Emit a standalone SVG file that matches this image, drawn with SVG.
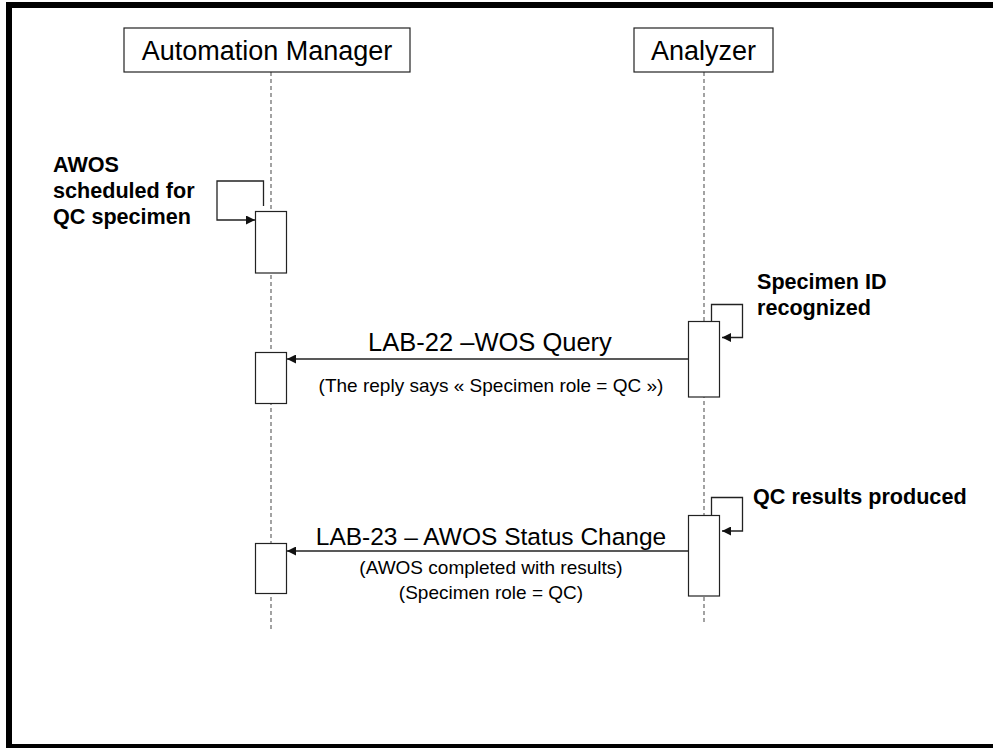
<svg xmlns="http://www.w3.org/2000/svg" width="993" height="748" viewBox="0 0 993 748">
<style>
.hdr{fill:#fff;stroke:#222;stroke-width:1.2}
.act{fill:#fff;stroke:#222;stroke-width:1.2}
.life{stroke:#666;stroke-width:1.2;stroke-dasharray:4 3;fill:none}
.msg{stroke:#222;stroke-width:1.3;fill:none}
.t{font-family:"Liberation Sans",Arial,sans-serif;fill:#000}
.big{font-size:27px}
.mid{font-size:24.5px}
.sm{font-size:19px}
.b{font-size:21.6px;font-weight:bold}
</style>
<defs>
<marker id="ah" viewBox="0 0 10 10" refX="10" refY="5" markerWidth="9" markerHeight="9" markerUnits="userSpaceOnUse" orient="auto">
<path d="M0,0 L10,5 L0,10 z" fill="#111"/>
</marker>
</defs>
<rect x="0" y="0" width="993" height="748" fill="#fff"/>
<rect x="9" y="5" width="1010" height="742" fill="none" stroke="#000" stroke-width="6"/>

<g id="lifelines">
<line class="life" x1="271" y1="72" x2="271" y2="630"/>
<line class="life" x1="704" y1="72" x2="704" y2="624"/>
</g>

<g id="automation-manager">
<rect class="hdr" x="124" y="28" width="286" height="44"/>
<text class="t big" x="267" y="60" text-anchor="middle">Automation Manager</text>
</g>

<g id="analyzer">
<rect class="hdr" x="634" y="28" width="139" height="44"/>
<text class="t big" x="703.5" y="60" text-anchor="middle">Analyzer</text>
</g>

<g id="am-act1">
<rect class="act" x="255.5" y="211.5" width="31" height="61.5"/>
</g>
<g id="am-act2">
<rect class="act" x="255.5" y="352.5" width="31" height="51"/>
</g>
<g id="am-act3">
<rect class="act" x="255.5" y="543.5" width="31" height="50"/>
</g>
<g id="an-act1">
<rect class="act" x="688.5" y="321.5" width="31" height="75.5"/>
</g>
<g id="an-act2">
<rect class="act" x="688.5" y="515.5" width="31" height="80.5"/>
</g>

<g id="connectors">
<polyline class="msg" points="263.5,206 263.5,181 217,181 217,220 255,220" marker-end="url(#ah)"/>
<polyline class="msg" points="711.5,321 711.5,304.5 742.5,304.5 742.5,337.5 722,337.5" marker-end="url(#ah)"/>
<line class="msg" x1="688.5" y1="359" x2="287" y2="359" marker-end="url(#ah)"/>
<polyline class="msg" points="711.5,515 711.5,497.5 742.5,497.5 742.5,531 722,531" marker-end="url(#ah)"/>
<line class="msg" x1="688.5" y1="551" x2="287" y2="551" marker-end="url(#ah)"/>
</g>

<g id="labels">
<text class="t b" x="53" y="172">AWOS</text>
<text class="t b" x="53" y="198">scheduled for</text>
<text class="t b" x="53" y="224">QC specimen</text>
<text class="t b" x="757" y="289">Specimen ID</text>
<text class="t b" x="757" y="315">recognized</text>
<text class="t b" x="753" y="504">QC results produced</text>
<text class="t mid" x="490" y="351" text-anchor="middle" style="font-size:25.5px">LAB-22 –WOS Query</text>
<text class="t sm" x="491" y="392" text-anchor="middle">(The reply says « Specimen role = QC »)</text>
<text class="t mid" x="491" y="545" text-anchor="middle">LAB-23 – AWOS Status Change</text>
<text class="t sm" x="491" y="574" text-anchor="middle">(AWOS completed with results)</text>
<text class="t sm" x="491" y="599" text-anchor="middle">(Specimen role = QC)</text>
</g>
</svg>
